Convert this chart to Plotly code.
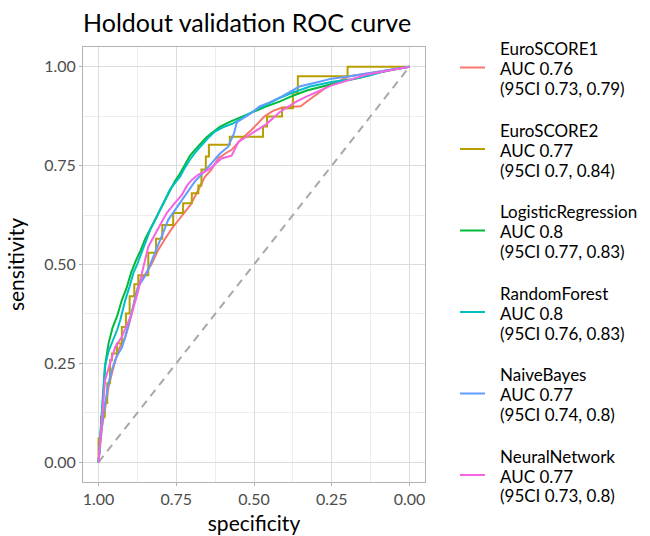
import plotly.graph_objects as go

# ---------------- data ----------------
models = ["EuroSCORE1", "EuroSCORE2", "LogisticRegression", "RandomForest", "NaiveBayes", "NeuralNetwork"]
auc = ["0.76", "0.77", "0.8", "0.8", "0.77", "0.77"]
ci = ["0.73, 0.79", "0.7, 0.84", "0.77, 0.83", "0.76, 0.83", "0.74, 0.8", "0.73, 0.8"]
colors = ["#F8766D", "#B79F00", "#00BA38", "#00BFC4", "#619CFF", "#F564E3"]

es1_spec = [1.0, 0.995, 0.989, 0.978, 0.968, 0.957, 0.946, 0.936, 0.925, 0.914, 0.903, 0.893, 0.882, 0.87, 0.861, 0.85,
            0.83, 0.808, 0.79, 0.765, 0.745, 0.722, 0.705, 0.69, 0.658, 0.637, 0.615, 0.59, 0.572, 0.54, 0.508, 0.466,
            0.44, 0.41, 0.35, 0.33, 0.29, 0.257, 0.22, 0.193, 0.12, 0.06, 0.0]
es1_sens = [0.0, 0.04, 0.089, 0.14, 0.19, 0.225, 0.258, 0.284, 0.30, 0.317, 0.345, 0.376, 0.42, 0.452, 0.465, 0.475,
            0.5, 0.537, 0.56, 0.59, 0.61, 0.632, 0.65, 0.672, 0.722, 0.74, 0.768, 0.782, 0.79, 0.818, 0.84, 0.875,
            0.888, 0.897, 0.9, 0.912, 0.935, 0.954, 0.966, 0.976, 0.985, 0.993, 1.0]

# EuroSCORE2 drawn as a staircase (vertical then horizontal)
es2_spec = [1.0, 0.992, 0.98, 0.972, 0.963, 0.957, 0.941, 0.925, 0.912, 0.9, 0.885, 0.872, 0.84, 0.815, 0.795, 0.76,
            0.728, 0.7, 0.679, 0.669, 0.655, 0.645, 0.578, 0.471, 0.458, 0.41, 0.375, 0.359, 0.199, 0.0]
es2_sens = [0.0, 0.06, 0.115, 0.15, 0.2, 0.258, 0.275, 0.3, 0.342, 0.376, 0.42, 0.45, 0.473, 0.53, 0.565, 0.6,
            0.63, 0.655, 0.68, 0.7, 0.74, 0.773, 0.803, 0.823, 0.849, 0.874, 0.895, 0.935, 0.976, 1.0]

lr_spec = [1.0, 0.995, 0.987, 0.978, 0.968, 0.955, 0.94, 0.925, 0.91, 0.895, 0.88, 0.865, 0.85, 0.834, 0.818, 0.802,
           0.785, 0.77, 0.755, 0.738, 0.72, 0.706, 0.69, 0.674, 0.655, 0.64, 0.61, 0.58, 0.55, 0.52, 0.49, 0.46,
           0.418, 0.38, 0.33, 0.28, 0.22, 0.16, 0.1, 0.05, 0.0]
lr_sens = [0.0, 0.06, 0.17, 0.25, 0.3, 0.34, 0.37, 0.41, 0.44, 0.48, 0.51, 0.535, 0.565, 0.59, 0.615, 0.64,
           0.665, 0.69, 0.71, 0.73, 0.755, 0.775, 0.79, 0.805, 0.82, 0.83, 0.848, 0.86, 0.87, 0.88, 0.89, 0.9,
           0.912, 0.925, 0.94, 0.95, 0.962, 0.972, 0.985, 0.993, 1.0]

rf_spec = [1.0, 0.996, 0.988, 0.98, 0.968, 0.952, 0.94, 0.93, 0.914, 0.9, 0.888, 0.876, 0.866, 0.85, 0.834, 0.818,
           0.802, 0.785, 0.77, 0.755, 0.738, 0.722, 0.706, 0.685, 0.663, 0.645, 0.626, 0.6, 0.567, 0.54, 0.514, 0.49,
           0.46, 0.42, 0.375, 0.32, 0.247, 0.19, 0.13, 0.076, 0.0]
rf_sens = [0.0, 0.05, 0.16, 0.24, 0.28, 0.31, 0.335, 0.36, 0.41, 0.445, 0.478, 0.5, 0.52, 0.555, 0.587, 0.612,
           0.638, 0.665, 0.69, 0.705, 0.722, 0.745, 0.765, 0.787, 0.807, 0.822, 0.836, 0.847, 0.857, 0.87, 0.883, 0.893,
           0.904, 0.92, 0.935, 0.95, 0.962, 0.968, 0.978, 0.99, 1.0]

nb_spec = [1.0, 0.995, 0.985, 0.975, 0.968, 0.957, 0.946, 0.936, 0.925, 0.914, 0.903, 0.893, 0.882, 0.872, 0.855, 0.845,
           0.829, 0.81, 0.795, 0.776, 0.754, 0.72, 0.69, 0.66, 0.637, 0.61, 0.583, 0.565, 0.555, 0.53, 0.508, 0.482,
           0.45, 0.41, 0.354, 0.3, 0.25, 0.193, 0.12, 0.06, 0.0]
nb_sens = [0.0, 0.05, 0.12, 0.174, 0.2, 0.233, 0.26, 0.275, 0.29, 0.317, 0.35, 0.385, 0.415, 0.444, 0.465, 0.478,
           0.51, 0.545, 0.575, 0.613, 0.638, 0.675, 0.71, 0.735, 0.756, 0.78, 0.798, 0.83, 0.86, 0.872, 0.883, 0.9,
           0.91, 0.925, 0.95, 0.96, 0.97, 0.976, 0.985, 0.993, 1.0]

nn_spec = [1.0, 0.995, 0.989, 0.979, 0.963, 0.946, 0.925, 0.91, 0.893, 0.872, 0.86, 0.84, 0.81, 0.781, 0.755, 0.733,
           0.715, 0.7, 0.68, 0.658, 0.637, 0.605, 0.572, 0.55, 0.52, 0.49, 0.46, 0.418, 0.39, 0.364, 0.33, 0.3,
           0.247, 0.2, 0.14, 0.07, 0.0]
nn_sens = [0.0, 0.05, 0.106, 0.208, 0.25, 0.292, 0.317, 0.345, 0.376, 0.435, 0.48, 0.545, 0.59, 0.63, 0.655, 0.675,
           0.7, 0.714, 0.727, 0.735, 0.745, 0.768, 0.775, 0.81, 0.825, 0.84, 0.855, 0.885, 0.9, 0.912, 0.925, 0.935,
           0.954, 0.965, 0.98, 0.99, 1.0]

specs = [es1_spec, es2_spec, lr_spec, rf_spec, nb_spec, nn_spec]
senss = [es1_sens, es2_sens, lr_sens, rf_sens, nb_sens, nn_sens]
shapes_line = ["linear", "vh", "linear", "linear", "linear", "linear"]

x_ticks = [1.0, 0.75, 0.5, 0.25, 0.0]
y_ticks = [0.0, 0.25, 0.5, 0.75, 1.0]
minor_ticks = [0.125, 0.375, 0.625, 0.875]
title_text = "Holdout validation ROC curve"

# ---------------- figure ----------------
FONT = "Lato"
W, H = 650, 536
ML, MR, MT, MB = 83, 225, 47, 54
PW, PH = W - ML - MR, H - MT - MB

fig = go.Figure()
fig.add_trace(go.Scatter(x=[1, 0], y=[0, 1], mode="lines", showlegend=False, hoverinfo="skip",
                         line=dict(color="#a8a8a8", width=2, dash="8px,6px")))
for i, m in enumerate(models):
    fig.add_trace(go.Scatter(x=specs[i], y=senss[i], mode="lines", name=m, showlegend=False,
                             line=dict(color=colors[i], width=2, shape=shapes_line[i])))

# legend built from annotations
def px2x(px):
    return (px - ML) / PW

def py2y(py):
    return (MT + PH - py) / PH

annotations = []
shapes = []
key_y0, pitch, lstep = 67.5, 81.5, 20.0
for i, m in enumerate(models):
    ky = key_y0 + pitch * i
    lines = [m, "AUC " + auc[i], "(95CI " + ci[i] + ")"]
    for j, t in enumerate(lines):
        annotations.append(dict(text=t, x=px2x(498), y=py2y(ky + (j - 1) * lstep + 1), xref="paper", yref="paper",
                                xanchor="left", yanchor="middle", showarrow=False,
                                font=dict(family=FONT, size=17, color="black")))
    shapes.append(dict(type="line", xref="paper", yref="paper", x0=px2x(460), x1=px2x(485),
                       y0=py2y(ky), y1=py2y(ky), line=dict(color=colors[i], width=2)))

axis_common = dict(showgrid=True, gridcolor="#dcdcdc", gridwidth=1, zeroline=False, automargin=False,
                   showline=True, mirror=True, linecolor="#b3b3b3", linewidth=1,
                   ticks="outside", ticklen=3, tickcolor="#b3b3b3", tickwidth=1,
                   tickfont=dict(family=FONT, size=16, color="#4d4d4d"),
                   minor=dict(tickvals=minor_ticks, showgrid=True, gridcolor="#ededed", gridwidth=1, ticks=""))

fig.update_layout(
    width=W, height=H, autosize=False,
    margin=dict(l=ML, r=MR, t=MT, b=MB, pad=0),
    paper_bgcolor="white", plot_bgcolor="white",
    title=dict(text=title_text, x=ML / W, xanchor="left", xref="container",
               y=1 - 23 / H, yanchor="middle", font=dict(family=FONT, size=25, color="black")),
    xaxis=dict(range=[1.05, -0.05], tickvals=x_ticks, ticktext=["%.2f" % v for v in x_ticks],
               title=dict(text="specificity", font=dict(family=FONT, size=21, color="black"), standoff=9),
               **axis_common),
    yaxis=dict(range=[-0.05, 1.05], tickvals=y_ticks, ticktext=["%.2f" % v for v in y_ticks],
               title=dict(text="sensitivity", font=dict(family=FONT, size=21, color="black"), standoff=13),
               **axis_common),
    annotations=annotations, shapes=shapes,
)

fig.write_html("out.html")
